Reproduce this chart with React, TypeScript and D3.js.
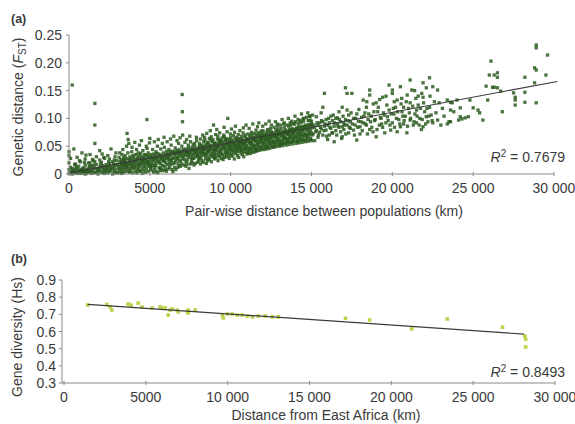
import React from "react";
import * as d3 from "d3";

// ---- Panel (a): pair-wise distance (hundreds of km) : F_ST (thousandths) ----
const fstNear = `0:1 1:4 1:12 2:0 2:160 3:45 3:7 4:2 4:18 5:9 5:30 6:3 6:14 7:1 7:22 8:6 8:38 9:11 9:2 10:0 10:16 10:27 11:5 11:9 12:3 12:20 13:13 13:35 14:1 14:7 15:24 15:4 16:127 16:88 16:55 16:10 16:2 17:17 17:31 18:6 18:0 19:12 19:42 20:3 20:21 21:8 21:15 22:1 22:28 23:10 23:5 24:33 24:2 25:14 25:19 26:7 26:45 27:0 27:11 28:25 28:4 29:16 29:38 30:9 30:2 1:2 3:3 4:9 6:6 8:2 9:5 11:1 12:8 13:4 14:15 15:11 17:3 18:9 19:6 20:13 21:2 22:7 23:17 24:9 25:4 26:12 27:22 28:8 29:2 30:17 5:1 7:8 10:5 13:20 16:22 19:25 22:12 25:27 28:14 2:10 0:8 0:20 0:33 0:40 1:28 2.5:6 4.5:13 6.5:24 8.5:10 10.5:34 12.5:14 14.5:26 17.5:9 19.5:18 21.5:30 23.5:13 25.5:8 27.5:18 29.5:24 3.5:17 9.5:21 15.5:16 20.5:36 24.5:22 28.5:31`.split(" ");

const fstLow = `31.2:4 30.8:14 31.5:22 31.0:30 31.7:9 31.4:38 32.3:1 31.9:11 32.6:19 32.1:26 32.8:35 32.4:16 33.1:7 33.5:15 32.9:23 33.3:44 33.8:29 33.0:2 34.2:3 33.8:12 34.5:18 34.0:25 34.7:33 34.3:21 35.0:8 35.4:16 34.8:22 35.6:50 35.2:28 35.7:13 36.3:5 35.9:73 36.6:62 36.1:19 36.8:27 36.4:38 36.0:12 37.2:10 36.8:17 37.5:24 37.0:55 37.7:31 37.3:3 38.1:6 38.5:14 37.9:21 38.3:28 38.8:40 38.0:18 39.4:2 38.9:11 39.2:20 39.7:25 39.0:48 39.5:33 40.2:9 39.8:16 40.5:23 40.1:30 40.7:57 40.3:12 41.3:4 40.9:19 41.6:26 41.1:35 41.8:44 41.4:14 42.2:8 42.6:17 41.9:23 42.4:29 42.8:38 42.1:2 43.0:12 43.4:20 42.8:26 43.6:52 43.2:33 43.7:6 44.3:5 43.9:15 44.6:22 44.0:28 44.8:60 44.4:37 45.2:11 44.8:18 45.5:25 45.0:31 45.7:42 45.3:1 46.1:7 46.5:16 45.9:24 46.3:30 46.8:35 46.0:20 47.3:3 46.9:13 47.6:21 47.1:27 47.8:50 47.4:34 48.2:98 47.8:9 48.5:19 48.0:26 48.7:33 48.3:46 48.9:14 49.1:5 49.5:17 48.9:23 49.3:30 49.8:56 49.0:38 50.4:10 49.9:22 50.2:28 50.7:35 50.0:64 50.5:15 51.2:7 50.8:13 51.5:26 51.0:31 51.7:44 51.3:20 52.3:3 51.9:16 52.6:24 52.1:29 52.8:58 52.4:36 53.1:8 53.5:19 52.9:27 53.3:33 53.8:40 53.0:13 54.2:4 53.8:15 54.5:24 54.0:30 54.7:50 54.3:37 55.0:2 55.4:22 54.8:29 55.6:36 55.2:62 55.7:11 56.3:11 55.9:20 56.6:27 56.1:32 56.8:45 56.4:6 57.2:9 56.8:18 57.5:25 57.0:34 57.7:55 57.3:30 58.1:6 58.5:24 57.9:31 58.3:38 58.8:66 58.0:15 59.4:14 58.9:23 59.2:29 59.7:35 59.0:48 59.5:8 60.2:5 59.8:21 60.5:28 60.1:33 60.7:58 60.3:41 61.3:9 60.9:17 61.6:26 61.1:36 61.8:44 61.4:31 62.2:12 62.6:26 61.9:34 62.4:40 62.8:63 62.1:20 63.0:17 63.4:24 62.8:33 63.6:38 63.2:52 63.7:8 64.3:4 63.9:28 64.6:36 64.0:41 64.8:68 64.4:19 65.2:20 64.8:29 65.5:35 65.0:39 65.7:47 65.3:12 66.1:8 66.5:30 65.9:37 66.3:42 66.8:60 66.0:24 67.3:12 66.9:27 67.6:36 67.1:40 67.8:55 67.4:19 68.2:15 67.8:31 68.5:38 68.0:44 68.7:65 68.3:25 69.1:23 69.5:32 68.9:37 69.3:41 69.8:50 69.0:14 70.0:143 70.1:112 70.2:94 70.4:28 69.9:39 70.6:44 70.3:70 69.8:18 71.2:16 70.8:33 71.5:38 71.0:42 71.7:57 71.3:26 72.3:14 71.9:33 72.6:40 72.1:45 72.8:62 72.4:22 73.1:25 73.5:35 72.9:39 73.3:43 73.8:52 73.0:18 74.2:10 73.8:30 74.5:41 74.0:47 74.7:68 74.3:35 75.0:18 75.4:30 74.8:40 75.6:44 75.2:58 75.7:24 76.3:20 75.9:36 76.6:42 76.1:48 76.8:53 76.4:28 77.2:28 76.8:34 77.5:41 77.0:45 77.7:55 77.3:16 78.1:19 78.5:31 77.9:38 78.3:43 78.8:66 78.0:49 79.4:33 78.9:37 79.2:42 79.7:46 79.0:60 79.5:21 80.2:24 79.8:34 80.5:39 80.1:44 80.7:50 80.3:28`.split(" ");

const fstMid = `81.3:18 80.8:31 81.6:40 81.1:49 80.7:55 81.4:63 81.9:44 82.2:24 81.8:36 82.5:47 82.0:52 82.7:70 81.6:29 82.4:42 83.1:21 82.7:34 83.5:45 83.3:58 82.9:50 83.8:66 83.0:39 84.4:27 83.9:37 84.2:44 84.7:53 84.0:61 83.6:48 84.5:32 85.0:19 85.4:41 84.8:50 85.6:57 85.2:73 84.9:35 85.7:46 86.3:29 85.9:38 86.6:49 86.1:55 86.8:64 86.4:43 85.8:24 87.2:33 86.8:26 87.5:46 87.0:52 87.7:60 87.4:78 87.1:40 88.1:22 88.5:37 87.9:44 88.3:51 88.8:58 88.0:67 88.6:31 89.4:88 88.9:35 89.2:47 89.7:54 89.0:62 89.5:42 89.8:29 90.2:27 89.8:39 90.5:48 90.1:56 90.7:71 90.3:44 89.9:33 91.3:36 90.9:30 91.6:49 91.1:55 91.8:63 91.4:80 91.0:42 92.2:24 92.6:40 91.9:47 92.4:53 92.8:59 92.1:68 92.5:34 93.0:31 93.4:44 92.8:50 93.6:57 93.2:74 93.7:38 93.1:62 94.3:28 93.9:41 94.6:49 94.0:55 94.8:65 94.4:36 94.1:60 95.2:34 94.8:45 95.5:51 95.0:58 95.7:70 95.3:26 95.9:84 96.1:30 96.5:42 95.9:48 96.3:54 96.8:61 96.0:67 96.6:38 97.3:36 96.9:46 97.6:52 97.1:59 97.8:76 97.4:31 97.0:64 98.2:100 97.8:40 98.5:50 98.0:56 98.7:63 98.3:44 98.9:33 99.1:28 99.5:47 98.9:53 99.3:60 99.8:72 99.0:38 99.6:57 100.4:35 99.9:45 100.2:52 100.7:58 100.0:66 100.5:81 100.1:41 101.2:32 100.8:49 101.5:54 101.0:61 101.7:69 101.3:43 101.9:38 102.3:27 101.9:42 102.6:51 102.1:57 102.8:64 102.4:75 102.0:47 103.1:37 103.5:46 102.9:53 103.3:59 103.8:66 103.0:86 103.6:43 104.2:33 103.8:48 104.5:55 104.0:61 104.7:71 104.3:40 104.9:52 105.0:30 105.4:44 104.8:52 105.6:58 105.2:64 105.7:78 105.1:49 106.3:38 105.9:47 106.6:55 106.1:62 106.8:68 106.4:42 106.0:57 107.2:35 106.8:50 107.5:57 107.0:63 107.7:74 107.3:45 107.9:83 108.1:31 108.5:46 107.9:53 108.3:60 108.8:67 108.0:40 108.6:56 109.4:39 108.9:49 109.2:56 109.7:62 109.0:70 109.5:88 109.1:45 110.2:36 109.8:51 110.5:58 110.1:64 110.7:72 110.3:44 109.9:61 111.3:42 110.9:48 111.6:55 111.1:63 111.8:69 111.4:82 111.0:38 112.2:37 112.6:52 111.9:59 112.4:65 112.8:75 112.1:46 112.5:57 113.0:44 113.4:50 112.8:57 113.6:64 113.2:71 113.7:90 113.1:40 114.3:39 113.9:53 114.6:60 114.0:66 114.8:73 114.4:47 114.1:62 115.2:45 114.8:51 115.5:58 115.0:65 115.7:79 115.3:42 115.9:69 116.1:41 116.5:55 115.9:61 116.3:67 116.8:74 116.0:49 116.6:85 117.3:47 116.9:53 117.6:60 117.1:66 117.8:72 117.4:92 117.0:43 118.2:43 117.8:57 118.5:63 118.0:69 118.7:77 118.3:50 118.9:65 119.1:48 119.5:55 118.9:61 119.3:68 119.8:86 119.0:45 119.6:73 120.4:44 119.9:58 120.2:64 120.7:70 120.0:78 120.5:52 120.1:67 121.2:49 120.8:56 121.5:62 121.0:69 121.7:90 121.3:46 121.9:75 122.3:45 121.9:59 122.6:65 122.1:71 122.8:80 122.4:53 122.0:68 123.1:50 123.5:57 122.9:63 123.3:70 123.8:95 123.0:48 123.6:77 124.2:46 123.8:60 124.5:66 124.0:72 124.7:82 124.3:55 124.9:69 125.0:52 125.4:58 124.8:65 125.6:71 125.2:88 125.7:49 125.1:76 126.3:48 125.9:61 126.6:67 126.1:74 126.8:84 126.4:56 126.0:70 127.2:53 126.8:59 127.5:66 127.0:72 127.7:94 127.3:50 127.9:79 128.1:49 128.5:62 127.9:68 128.3:75 128.8:86 128.0:57 128.6:71 129.4:54 128.9:60 129.2:67 129.7:73 129.0:90 129.5:52 129.1:80 130.2:50 129.8:63 130.5:70 130.1:76 130.7:88 130.3:58 129.9:73 131.3:55 130.9:61 131.6:68 131.1:75 131.8:98 131.4:53 131.0:82 132.2:51 132.6:64 131.9:71 132.4:77 132.8:90 132.1:59 132.5:74 133.0:56 133.4:63 132.8:69 133.6:76 133.2:92 133.7:55 133.1:84 134.3:52 133.9:66 134.6:72 134.0:79 134.8:88 134.4:61 134.1:75 135.2:57 134.8:64 135.5:71 135.0:77 135.7:100 135.3:58 135.9:86 136.1:53 136.5:67 135.9:73 136.3:80 136.8:92 136.0:62 136.6:77 137.3:58 136.9:65 137.6:72 137.1:79 137.8:95 137.4:57 137.0:88 138.2:54 137.8:68 138.5:75 138.0:82 138.7:90 138.3:64 138.9:79 139.1:59 139.5:66 138.9:73 139.3:80 139.8:104 139.0:60 139.6:90 140.4:55 139.9:70 140.2:76 140.7:83 140.0:94 140.5:65 140.1:80 141.2:60 140.8:67 141.5:74 141.0:81 141.7:98 141.3:58 141.9:91 142.3:56 141.9:71 142.6:78 142.1:85 142.8:96 142.4:66 142.0:82 143.1:61 143.5:69 142.9:76 143.3:83 143.8:108 143.0:62 143.6:93 144.2:57 143.8:72 144.5:79 144.0:86 144.7:99 144.3:67 144.9:84 145.0:62 145.4:70 144.8:77 145.6:84 145.2:100 145.7:60 145.1:95 146.3:58 145.9:73 146.6:80 146.1:88 146.8:102 146.4:68 146.0:85 147.2:63 146.8:71 147.5:78 147.0:86 147.7:110 147.3:65 147.9:96 148.1:59 148.5:74 147.9:82 148.3:89 148.8:104 148.0:69 148.6:87 149.4:64 148.9:72 149.2:80 149.7:88 149.0:104 149.5:62 149.1:97 150.2:60 149.8:75 150.5:83 150.1:90 150.7:106 150.3:70 149.9:88`.split(" ");

const fstFar = `150:95 151:72 152:84 152:60 153:103 153:78 154:88 154:66 155:92 155:75 156:81 156:110 157:94 157:120 157:70 158:145 158:86 159:79 159:98 160:88 160:62 161:92 161:70 162:82 162:104 163:96 163:74 164:86 164:58 165:100 165:78 166:101 166:90 167:84 167:112 168:76 168:94 169:85 169:67 169:120 170:92 170:80 171:155 171:98 172:145 172:115 172:88 173:74 173:106 174:94 174:82 175:145 176:79 176:100 177:88 178:61 178:108 179:95 180:85 180:72 181:102 182:133 182:92 183:110 184:88 184:120 185:98 186:151 186:142 186:80 187:104 188:76 189:96 190:67 190:128 191:112 192:88 193:100 194:138 194:84 195:106 196:92 197:103 198:160 198:115 199:79 200:151 200:145 200:92 201:108 202:120 203:76 203:133 204:98 205:157 205:85 206:112 207:120 207:90 208:104 209:74 210:118 211:169 211:97 211:128 212:151 213:88 214:108 215:92 215:115 216:124 217:100 218:80 219:164 219:85 219:138 220:112 221:155 221:103 222:94 223:173 223:120 224:106 225:157 225:92 226:130 227:110 228:151 228:97 229:128 230:88 231:118 232:104 234:133 235:94 236:129 236:94 237:128 238:112 240:133 241:97 234:90 236:115 242:119 242:103 243:99 245:101 247:103 248:133 250:119 253:115 254:110 256:97 259:133 268:112 258:158 262:156 263:156 265:155 267:149 260:178 263:178 265:182 265:174 261:203 275:146 276:138 276:133 276:124 282:129 289:128 282:147 288:164 282:174 295:178 288:191 289:187 296:214 289:232 289:227 151.5:88 152.6:76 153.4:92 154.3:70 155.5:84 156.2:96 157.7:78 158.4:90 159.3:68 160.6:100 161.4:84 162.7:74 163.5:106 164.2:92 165.6:70 166.4:86 167.3:98 168.6:64 169.5:104 170.4:88 171.2:72 172.6:96 173.4:84 174.5:110 175.3:90 176.6:70 177.4:100 178.5:84 179.3:116 180.6:94 181.4:78 182.5:104 183.3:90 184.6:72 185.4:108 186.5:94 187.3:84 188.6:112 189.4:98 190.5:80 191.3:120 192.6:102 193.4:90 194.5:110 195.3:74 196.6:124 197.4:96 198.5:88 199.3:108 200.6:118 201.4:84 202.5:100 203.3:112 204.6:90 205.4:126 206.5:104 207.3:96 208.6:130 209.4:86 210.5:110 211.3:100 212.6:122 213.4:94 214.5:136 215.3:104 216.6:88 217.4:118 218.5:98 219.3:128 220.6:90 221.4:118 222.5:104 223.3:140 224.6:96 218.2:145 216.0:140 213.8:150 209.2:142 205.8:136 201.2:130 196.1:140 192.2:134 188.2:126 184.2:130`.split(" ");

// ---- Panel (b): distance from East Africa (km) and gene diversity (Hs) ----
const hsDistance = [1450, 2610, 2815, 2920, 3920, 4100, 4530, 4770, 5385, 5875, 5980, 6180, 6490, 6610, 6365, 6915, 6980, 7530, 7590, 7590, 8020, 9670, 9730, 9980, 10280, 10590, 10890, 11200, 11510, 11870, 12300, 12730, 13100, 17200, 18670, 21240, 23420, 26790, 28150, 28210, 28210];
const hsValue = [0.754, 0.758, 0.743, 0.725, 0.760, 0.754, 0.766, 0.743, 0.737, 0.743, 0.737, 0.737, 0.725, 0.731, 0.696, 0.725, 0.714, 0.714, 0.725, 0.708, 0.725, 0.696, 0.679, 0.702, 0.702, 0.696, 0.696, 0.690, 0.685, 0.690, 0.690, 0.685, 0.685, 0.677, 0.667, 0.615, 0.673, 0.625, 0.574, 0.556, 0.510];

const xTicks = [0, 5000, 10000, 15000, 20000, 25000, 30000];
const xTickLabels = ["0", "5000", "10 000", "15 000", "20 000", "25 000", "30 000"];
const yTicksA = [0, 0.05, 0.1, 0.15, 0.2, 0.25];
const yTickLabelsA = ["0", "0.05", "0.10", "0.15", "0.20", "0.25"];
const yTicksB = [0.3, 0.4, 0.5, 0.6, 0.7, 0.8, 0.9];
const yTickLabelsB = ["0.3", "0.4", "0.5", "0.6", "0.7", "0.8", "0.9"];
const fitA = [[0, 0.002], [30200, 0.1665]];
const fitB = [[1450, 0.758], [28100, 0.585]];

const parse = (toks: string[]) =>
  toks.filter(Boolean).map((t) => {
    const [a, b] = t.split(":");
    return { x: +a * 100, y: +b / 1000 };
  });

const FONT = "'Liberation Sans', Arial, sans-serif";
const TXT = "#3a3a3a";
const AX = "#8a8a8a";
const FS = 14;

export default function App() {
  const ptsA = [...parse(fstNear), ...parse(fstLow), ...parse(fstMid), ...parse(fstFar)];
  const xA = d3.scaleLinear().domain([0, 30000]).range([69, 554]);
  const yA = d3.scaleLinear().domain([0, 0.25]).range([174, 35]);
  const xB = d3.scaleLinear().domain([0, 30000]).range([64, 555]);
  const yB = d3.scaleLinear().domain([0.3, 0.9]).range([383, 280]);
  const lineA = d3.line<number[]>().x((d) => xA(d[0])).y((d) => yA(d[1]));
  const lineB = d3.line<number[]>().x((d) => xB(d[0])).y((d) => yB(d[1]));
  const s = 3.3;

  return (
    <svg width={575} height={424} style={{ position: "absolute", left: 0, top: 0, background: "#fff" }} fontFamily={FONT}>
      <rect width={575} height={424} fill="#fff" />
      {/* Panel (a) */}
      <text x={11} y={23} fontSize={12.5} fontWeight="bold" fill={TXT}>(a)</text>
      <g>
        {ptsA.map((p, i) => (
          <rect key={i} x={xA(p.x) - s / 2} y={yA(p.y) - s / 2} width={s} height={s} fill="#2a5a1e" opacity={0.85} />
        ))}
      </g>
      <path d={lineA(fitA) || ""} stroke="#3a3a3a" strokeWidth={1.1} fill="none" />
      <line x1={69} x2={69} y1={yA(0.25)} y2={yA(0)} stroke={AX} />
      <line x1={69} x2={554} y1={yA(0)} y2={yA(0)} stroke={AX} />
      {yTicksA.map((t, i) => (
        <g key={i}>
          <line x1={66} x2={69} y1={yA(t)} y2={yA(t)} stroke={AX} />
          <text x={62} y={yA(t) + 5} textAnchor="end" fontSize={FS} fill={TXT}>{yTickLabelsA[i]}</text>
        </g>
      ))}
      {xTicks.map((t, i) => (
        <g key={i}>
          <line x1={xA(t)} x2={xA(t)} y1={yA(0) - 2} y2={yA(0) + 2} stroke={AX} />
          <text x={xA(t)} y={193} textAnchor="middle" fontSize={FS} fill={TXT}>{xTickLabels[i]}</text>
        </g>
      ))}
      <text x={324} y={216} textAnchor="middle" fontSize={FS} fill={TXT}>Pair-wise distance between populations (km)</text>
      <text transform="translate(23,107) rotate(-90)" textAnchor="middle" fontSize={FS} fill={TXT}>
        Genetic distance (<tspan fontStyle="italic">F</tspan><tspan fontSize={10} dy={3}>ST</tspan><tspan dy={-3}>)</tspan>
      </text>
      <text x={565} y={162} textAnchor="end" fontSize={FS} fill={TXT}>
        <tspan fontStyle="italic">R</tspan><tspan fontSize={10} dy={-5}>2</tspan><tspan dy={5}> = 0.7679</tspan>
      </text>

      {/* Panel (b) */}
      <text x={11} y={263} fontSize={12.5} fontWeight="bold" fill={TXT}>(b)</text>
      <g>
        {hsDistance.map((d, i) => (
          <rect key={i} x={xB(d) - 1.8} y={yB(hsValue[i]) - 1.8} width={3.6} height={3.6} fill="#b8d448" />
        ))}
      </g>
      <path d={lineB(fitB) || ""} stroke="#3a3a3a" strokeWidth={1.2} fill="none" />
      <line x1={62} x2={62} y1={yB(0.9)} y2={yB(0.3)} stroke={AX} />
      <line x1={62} x2={555} y1={yB(0.3)} y2={yB(0.3)} stroke={AX} />
      {yTicksB.map((t, i) => (
        <g key={i}>
          <line x1={59} x2={62} y1={yB(t)} y2={yB(t)} stroke={AX} />
          <text x={56} y={yB(t) + 5} textAnchor="end" fontSize={FS} fill={TXT}>{yTickLabelsB[i]}</text>
        </g>
      ))}
      {xTicks.map((t, i) => (
        <g key={i}>
          <line x1={xB(t)} x2={xB(t)} y1={yB(0.3) - 2} y2={yB(0.3) + 2} stroke={AX} />
          <text x={xB(t)} y={402} textAnchor="middle" fontSize={FS} fill={TXT}>{xTickLabels[i]}</text>
        </g>
      ))}
      <text x={326} y={420} textAnchor="middle" fontSize={FS} fill={TXT}>Distance from East Africa (km)</text>
      <text transform="translate(22,337) rotate(-90)" textAnchor="middle" fontSize={FS} fill={TXT}>Gene diversity (Hs)</text>
      <text x={565} y={377} textAnchor="end" fontSize={FS} fill={TXT}>
        <tspan fontStyle="italic">R</tspan><tspan fontSize={10} dy={-5}>2</tspan><tspan dy={5}> = 0.8493</tspan>
      </text>
    </svg>
  );
}
